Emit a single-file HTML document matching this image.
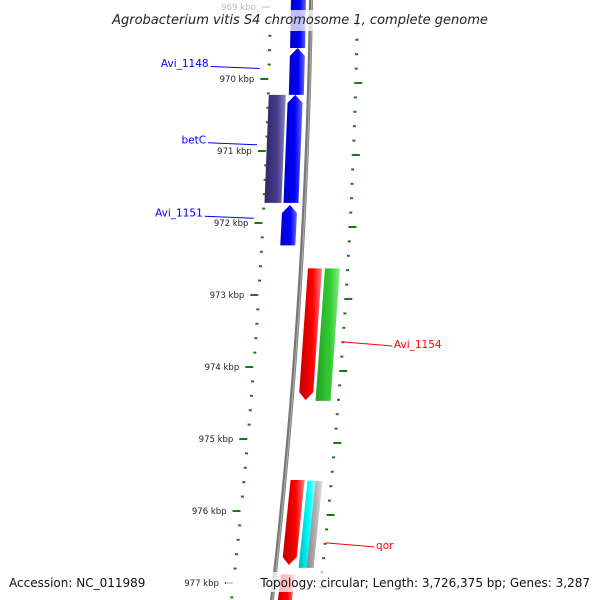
<!DOCTYPE html>
<html><head><meta charset="utf-8"><style>
html,body{margin:0;padding:0;background:#fff;}
svg{display:block;font-family:"DejaVu Sans","Liberation Sans",sans-serif;}
</style></head><body>
<svg id="chart" width="600" height="600" viewBox="0 0 600 600" xmlns="http://www.w3.org/2000/svg">
<defs>
<linearGradient id="g-blue" x1="0" x2="1"><stop offset="0" stop-color="#0000c8"/><stop offset="0.6" stop-color="#0000ff"/><stop offset="1" stop-color="#6666ff"/></linearGradient>
<linearGradient id="g-purple" x1="0" x2="1"><stop offset="0" stop-color="#2e2866"/><stop offset="0.6" stop-color="#483d8b"/><stop offset="1" stop-color="#8f86c8"/></linearGradient>
<linearGradient id="g-red" x1="0" x2="1"><stop offset="0" stop-color="#c00000"/><stop offset="0.6" stop-color="#ff0000"/><stop offset="1" stop-color="#ff8080"/></linearGradient>
<linearGradient id="g-green" x1="0" x2="1"><stop offset="0" stop-color="#23a023"/><stop offset="0.6" stop-color="#33cc33"/><stop offset="1" stop-color="#88ee88"/></linearGradient>
<linearGradient id="g-cyan" x1="0" x2="1"><stop offset="0" stop-color="#00b8b8"/><stop offset="0.6" stop-color="#00ffff"/><stop offset="1" stop-color="#99ffff"/></linearGradient>
<linearGradient id="g-gray" x1="0" x2="1"><stop offset="0" stop-color="#888"/><stop offset="0.6" stop-color="#b4b4b4"/><stop offset="1" stop-color="#e0e0e0"/></linearGradient>
<linearGradient id="g-bb" x1="0" x2="1"><stop offset="0" stop-color="#666"/><stop offset="0.5" stop-color="#999"/><stop offset="1" stop-color="#666"/></linearGradient>
</defs>
<g id="ticks"></g>
<g id="backbone"></g>
<g id="features"></g>
<g id="labels"></g>
<rect x="100" y="10" width="400" height="21" fill="#fff" opacity="0.75"/>
<text x="300" y="24" text-anchor="middle" font-size="13" font-style="italic" fill="#222">Agrobacterium vitis S4 chromosome 1, complete genome</text>
<rect x="6" y="572" width="124" height="20" fill="#fff" opacity="0.75"/>
<text x="9" y="587" font-size="12" fill="#111">Accession: NC_011989</text>
<rect x="226" y="572" width="368" height="20" fill="#fff" opacity="0.75"/>
<text x="590" y="587" text-anchor="end" font-size="12" fill="#111">Topology: circular; Length: 3,726,375 bp; Genes: 3,287</text>
</svg>
<script>
const tickStart = 968.8;
const tickEnd = 977.4;
const majorKbp = [969,970,971,972,973,974,975,976,977];
const featStart = [968.7,969.57,970.22,971.75,970.22,972.63,972.63,975.57,975.58,975.58,976.88];
const featEnd   = [969.57,970.22,971.72,972.31,971.72,974.46,974.47,976.75,976.79,976.79,977.6];
const featLaneU0 = [-20,-20,-21,-22,-40,7,24,6,23,31,6];
const featLaneU1 = [-5,-5,-6,-7,-23,21,39,20,31,38,20];
const featColor = ['blue','blue','blue','blue','purple','red','green','red','cyan','gray','red'];
const featArrow = ['none','up','up','up','none','down','none','down','none','none','down'];
const labelText = ['Avi_1148','betC','Avi_1151','Avi_1154','qor'];
const labelKbp = [969.84,970.9,971.92,973.68,976.47];
const labelSide = ['left','left','left','right','right'];
const labelColor = ['#0000ff','#0000ff','#0000ff','#ff0000','#ff0000'];

const NS='http://www.w3.org/2000/svg';
function Y(k){return 79+(k-970)*72;}
function X(y,u){return 311-0.0153*y-0.0000829*y*y+u;}
function mk(tag,attrs,parent){const e=document.createElementNS(NS,tag);for(const a in attrs)e.setAttribute(a,attrs[a]);parent.appendChild(e);return e;}
const gt=document.getElementById('ticks'),gb=document.getElementById('backbone'),gf=document.getElementById('features'),gl=document.getElementById('labels');

// ticks
const n=Math.round((tickEnd-tickStart)/0.2);
for(let i=0;i<=n;i++){
  const k=tickStart+i*0.2, y=Y(k);
  const major=majorKbp.some(m=>Math.abs(m-k)<1e-6);
  const faded=y<12;
  const col=faded?'#cfe8cf':'#1a7a1a';
  const l=mk('rect',{x:major?X(y,-49):X(y,-42),y:y-1,width:major?8:3,height:2,fill:col},gt);
  
  
  const r=mk('rect',{x:X(y,45),y:y+3,width:major?8:3,height:2,fill:col},gt);
  
  
  if(major){
    const t=mk('text',{x:X(y,-55),y:y+3,'text-anchor':'end','font-size':'8.5',fill:faded?'#bbb':'#222'},gt);
    t.textContent=Math.round(k)+' kbp';
    
    
  }
}
// backbone
let pts=[];
for(let y=-5;y<=605;y+=10)pts.push([X(y,0),y]);
const bb=mk('polyline',{points:pts.map(p=>p.join(',')).join(' '),fill:'none',stroke:'#777','stroke-width':4},gb);


const bb2=mk('polyline',{points:pts.map(p=>(p[0]+0.7)+','+p[1]).join(' '),fill:'none',stroke:'#aaa','stroke-width':1.2},gb);



// features
for(let i=0;i<featStart.length;i++){
  const y0=Y(featStart[i]),y1=Y(featEnd[i]),u0=featLaneU0[i],u1=featLaneU1[i],um=(u0+u1)/2,tip=8;
  let p;
  if(featArrow[i]==='up'){
    p=[[X(y0,um),y0],[X(y0+tip,u1),y0+tip],[X(y1,u1),y1],[X(y1,u0),y1],[X(y0+tip,u0),y0+tip]];
  }else if(featArrow[i]==='down'){
    p=[[X(y0,u0),y0],[X(y0,u1),y0],[X(y1-tip,u1),y1-tip],[X(y1,um),y1],[X(y1-tip,u0),y1-tip]];
  }else{
    p=[[X(y0,u0),y0],[X(y0,u1),y0],[X(y1,u1),y1],[X(y1,u0),y1]];
  }
  const e=mk('polygon',{points:p.map(q=>q.join(',')).join(' '),fill:'url(#g-'+featColor[i]+')'},gf);
  
  
}
// labels
for(let i=0;i<labelText.length;i++){
  const y=Y(labelKbp[i]);
  let x1,x2,tx,anchor;
  if(labelSide[i]==='left'){x2=X(y,-50);x1=x2-49;tx=x1-2;anchor='end';}
  else{x1=X(y,48);x2=x1+48;tx=x2+2;anchor='start';}
  const ln=mk('line',{x1:x1,y1:labelSide[i]==='left'?y-1:y-2,x2:x2,y2:labelSide[i]==='left'?y+1:y+2,stroke:labelColor[i],'stroke-width':1},gl);
  
  
  const t=mk('text',{x:tx,y:y+(labelSide[i]==='left'?-0.5:4),'text-anchor':anchor,'font-size':'10.5',fill:labelColor[i]},gl);
  t.textContent=labelText[i];
  
  
}
</script>
</body></html>
